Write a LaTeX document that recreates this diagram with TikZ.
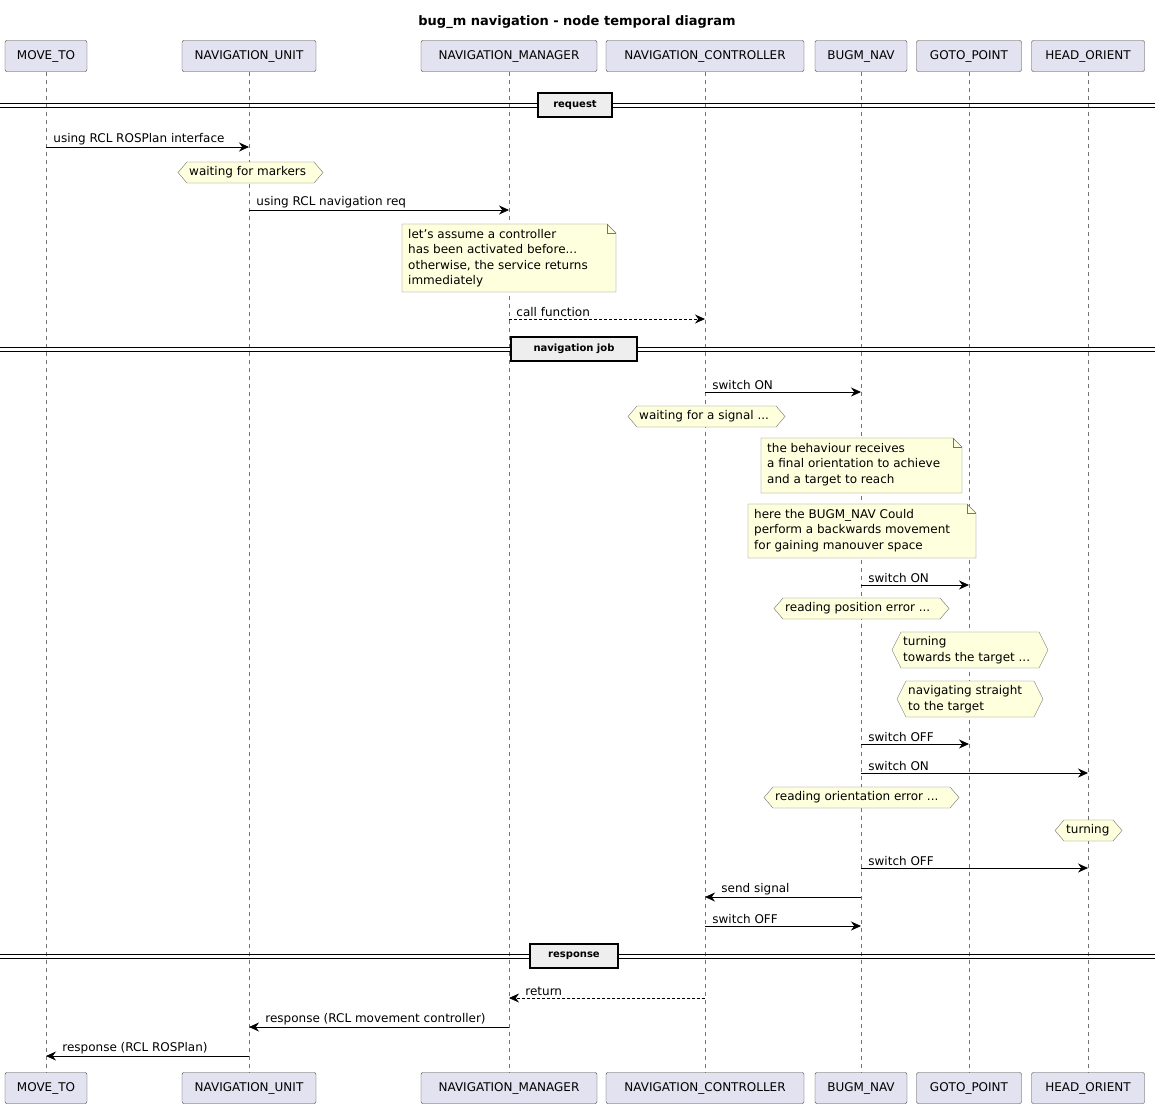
\documentclass[tikz,border=0pt]{standalone}
\usepackage{fontspec}
\setmainfont{DejaVu Sans}
\usetikzlibrary{arrows.meta}
\definecolor{partfill}{HTML}{E2E2F0}
\definecolor{notefill}{HTML}{FEFFDD}
\definecolor{divfill}{HTML}{EEEEEE}

% messages between lifelines
\newcommand\callR[5][msg]{\draw[#1] (#2T |- 0,#4) -- (#3T |- 0,#4) node[lbl, pos=0, xshift=6pt] {#5};}
\newcommand\callL[5][msg]{\draw[#1] (#2T |- 0,#4) -- (#3T |- 0,#4) node[lbl, pos=1, xshift=15pt] {#5};}
% hexagon notes
\newcommand\hexnote[6]{%
  \draw[note] (#2,{(#4+#5)/2}) -- ({#2+9},#4) -- ({#3-9},#4) -- (#3,{(#4+#5)/2}) -- ({#3-9},#5) -- ({#2+9},#5) -- cycle;
  \node[anchor=west, align=left, inner sep=0pt] (#1) at ({#2+11},{(#4+#5)/2}) {#6};}
% folded notes
\newcommand\notebox[6]{%
  \draw[note] (#2,#4) -- ({#3-9},#4) -- (#3,{#4+9}) -- (#3,#5) -- (#2,#5) -- cycle;
  \draw[draw=black!55] ({#3-9},#4) -- ({#3-9},{#4+9}) -- (#3,{#4+9});
  \node[anchor=north west, align=left, inner sep=0pt] (#1) at ({#2+6},{#4+5}) {#6};}
% section dividers
\newcommand\divider[5]{%
  \draw[line width=0.8pt] (0,{#2-2}) -- (1155,{#2-2}) (0,{#2+2}) -- (1155,{#2+2});
  \node[draw, line width=1.2pt, fill=divfill, minimum width={#4-#3}, minimum height=24pt, inner sep=0pt, font=\bfseries] (#1) at ({(#3+#4)/2},#2) {#5};}

\begin{document}
\begin{tikzpicture}[x=1pt, y=-1pt, font=\fontsize{12}{15.5}\selectfont,
    part/.style={draw=black!75, fill=partfill, rounded corners=2pt, minimum height=31pt, inner sep=0pt},
    life/.style={draw=black!55, dash pattern=on 4pt off 4pt, line width=0.6pt},
    msg/.style={-{Stealth[length=10pt,width=9pt]}, line width=0.8pt},
    reply/.style={msg, dash pattern=on 3pt off 2pt},
    lbl/.style={anchor=south west, inner sep=1pt, yshift=1pt},
    note/.style={draw=black!55, fill=notefill}]

    \useasboundingbox[fill=white] (0,0) rectangle (1155,1109);

    \node[font=\fontsize{13}{15}\selectfont\bfseries] (title) at (577,22) {bug\_m navigation - node temporal diagram};

    % participants, top and bottom, with lifelines
    \foreach \n/\x/\w/\t in {moveto/46/82/MOVE\_TO, unit/249/134/NAVIGATION\_UNIT,
        manager/509/176/NAVIGATION\_MANAGER, ctrl/705/198/NAVIGATION\_CONTROLLER,
        bugm/861/92/BUGM\_NAV, goto/969/105/GOTO\_POINT, head/1088/113/HEAD\_ORIENT}{
      \node[part, minimum width=\w] (\n T) at (\x,56) {\t};
      \node[part, minimum width=\w] (\n B) at (\x,1088) {\t};
      \draw[life] (\n T) -- (\n B);
    }

    % request
    \divider{req}{105}{538}{612}{request}
    \callR{moveto}{unit}{147}{using RCL ROSPlan interface}
    \hexnote{wmark}{178}{323}{162}{183}{waiting for markers}
    \callR{unit}{manager}{210}{using RCL navigation req}
    \notebox{assume}{402}{616}{224}{292}{let's assume a controller\\has been activated before...\\otherwise, the service returns\\immediately}
    \callR[reply]{manager}{ctrl}{319}{call function}

    % navigation job
    \divider{job}{349}{511}{637}{navigation job}
    \callR{ctrl}{bugm}{392}{switch ON}
    \hexnote{wsig}{628}{785}{406}{427}{waiting for a signal ...}
    \notebox{recv}{761}{962}{438}{493}{the behaviour receives\\a final orientation to achieve\\and a target to reach}
    \notebox{back}{748}{976}{504}{558}{here the BUGM\_NAV Could\\perform a backwards movement\\for gaining manouver space}
    \callR{bugm}{goto}{585}{switch ON}
    \hexnote{rpos}{774}{949}{598}{619}{reading position error ...}
    \hexnote{turnt}{892}{1048}{632}{668}{turning\\towards the target ...}
    \hexnote{straight}{897}{1043}{681}{717}{navigating straight\\to the target}
    \callR{bugm}{goto}{744}{switch OFF}
    \callR{bugm}{head}{773}{switch ON}
    \hexnote{rori}{764}{959}{787}{808}{reading orientation error ...}
    \hexnote{turn}{1055}{1122}{820}{841}{turning}
    \callR{bugm}{head}{868}{switch OFF}
    \callL{bugm}{ctrl}{897}{send signal}
    \callR{ctrl}{bugm}{926}{switch OFF}

    % response
    \divider{resp}{956}{530}{618}{response}
    \callL[reply]{ctrl}{manager}{998}{return}
    \callL{manager}{unit}{1027}{response (RCL movement controller)}
    \callL{unit}{moveto}{1056}{response (RCL ROSPlan)}

\end{tikzpicture}
\end{document}
